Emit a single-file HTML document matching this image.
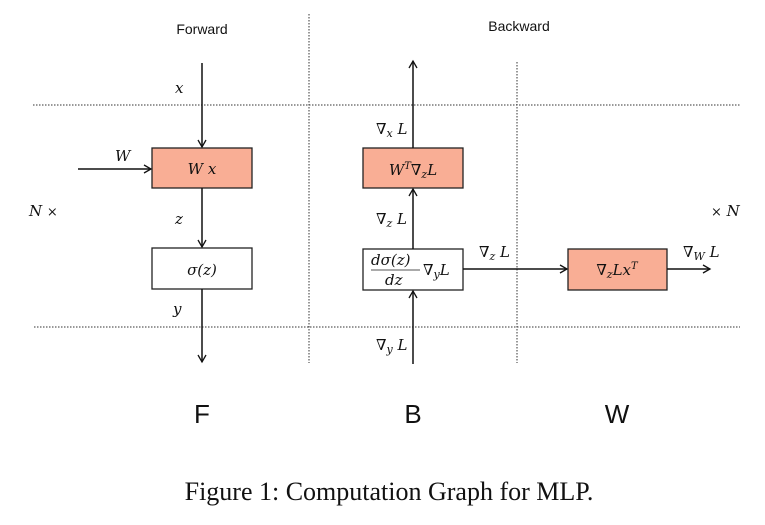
<!DOCTYPE html>
<html><head><meta charset="utf-8"><style>
html,body{margin:0;padding:0;background:#fff;}
svg{display:block}
.m{font-family:"DejaVu Serif","Liberation Serif",serif;font-style:italic;font-size:15px;fill:#111}
.s{font-family:"Liberation Sans",sans-serif;fill:#111}
</style></head><body>
<svg width="765" height="525" viewBox="0 0 765 525" xmlns="http://www.w3.org/2000/svg">
<defs><marker id="a" markerWidth="10" markerHeight="10" refX="8" refY="5" orient="auto" markerUnits="userSpaceOnUse">
<path d="M1,1 L8,5 L1,9" fill="none" stroke="#111" stroke-width="1.3"/></marker></defs>
<g stroke="#333" stroke-width="1" stroke-dasharray="1.5,1.5" fill="none">
<line x1="33" y1="105" x2="740" y2="105"/>
<line x1="34" y1="327" x2="740" y2="327"/>
<line x1="309" y1="14" x2="309" y2="363"/>
<line x1="517" y1="62" x2="517" y2="363"/>
</g>
<g stroke="#222" stroke-width="1.3">
<rect x="152" y="148" width="100" height="40" fill="#f9ae95"/>
<rect x="152" y="248" width="100" height="41" fill="#fff"/>
<rect x="363" y="148" width="100" height="40" fill="#f9ae95"/>
<rect x="363" y="249" width="100" height="41" fill="#fff"/>
<rect x="568" y="249" width="99" height="41" fill="#f9ae95"/>
</g>
<g stroke="#111" stroke-width="1.5" marker-end="url(#a)">
<line x1="202" y1="63" x2="202" y2="147"/>
<line x1="78" y1="169" x2="151" y2="169"/>
<line x1="202" y1="188" x2="202" y2="247"/>
<line x1="202" y1="289" x2="202" y2="362"/>
<line x1="413" y1="364" x2="413" y2="291"/>
<line x1="413" y1="249" x2="413" y2="189"/>
<line x1="413" y1="148" x2="413" y2="61"/>
<line x1="463" y1="269" x2="567" y2="269"/>
<line x1="667" y1="269" x2="710" y2="269"/>
</g>
<text class="s" x="202" y="34" font-size="14" text-anchor="middle">Forward</text>
<text class="s" x="519" y="31" font-size="14" text-anchor="middle">Backward</text>
<text class="m" x="175" y="93">x</text>
<text class="m" x="115" y="161">W</text>
<text class="m" x="202" y="174" text-anchor="middle">W x</text>
<text class="m" x="29" y="216">N <tspan font-style="normal" font-size="13">×</tspan></text>
<text class="m" x="175" y="224">z</text>
<text class="m" x="202" y="275" text-anchor="middle">σ(z)</text>
<text class="m" x="173" y="314">y</text>
<text class="m" x="376" y="134">∇<tspan font-size="11" dy="3">x</tspan><tspan dy="-3"> L</tspan></text>
<text class="m" x="413" y="175" text-anchor="middle">W<tspan font-size="10" dy="-6">T</tspan><tspan dy="6">∇</tspan><tspan font-size="11" dy="3">z</tspan><tspan dy="-3">L</tspan></text>
<text class="m" x="376" y="224">∇<tspan font-size="11" dy="3">z</tspan><tspan dy="-3"> L</tspan></text>
<text class="m" x="371" y="265" font-size="13">dσ(z)</text>
<line x1="371" y1="270" x2="420" y2="270" stroke="#555" stroke-width="1"/>
<text class="m" x="385" y="285" font-size="13">dz</text>
<text class="m" x="423" y="275">∇<tspan font-size="11" dy="3">y</tspan><tspan dy="-3">L</tspan></text>
<text class="m" x="479" y="257">∇<tspan font-size="11" dy="3">z</tspan><tspan dy="-3"> L</tspan></text>
<text class="m" x="617" y="275" text-anchor="middle">∇<tspan font-size="11" dy="3">z</tspan><tspan dy="-3">Lx</tspan><tspan font-size="10" dy="-6">T</tspan></text>
<text class="m" x="683" y="257">∇<tspan font-size="11" dy="3">W</tspan><tspan dy="-3"> L</tspan></text>
<text class="m" x="711" y="216"><tspan font-style="normal" font-size="13">×</tspan> N</text>
<text class="m" x="376" y="350">∇<tspan font-size="11" dy="3">y</tspan><tspan dy="-3"> L</tspan></text>
<text class="s" x="202" y="423" font-size="26" text-anchor="middle">F</text>
<text class="s" x="413" y="423" font-size="26" text-anchor="middle">B</text>
<text class="s" x="617" y="423" font-size="26" text-anchor="middle">W</text>
<text x="389" y="500" font-family="Liberation Serif,serif" font-size="26" fill="#111" text-anchor="middle">Figure 1: Computation Graph for MLP.</text>
</svg>
</body></html>
